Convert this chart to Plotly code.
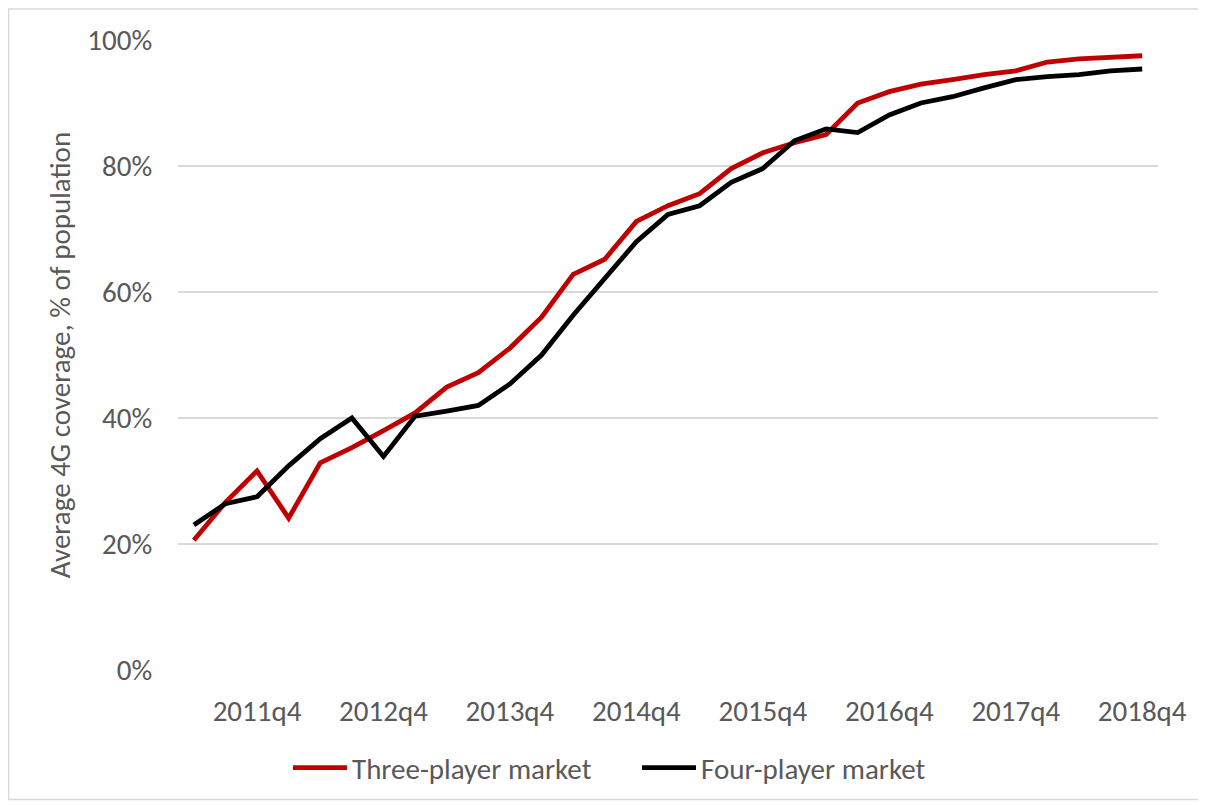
import plotly.graph_objects as go

quarters = [f"{y}q{q}" for y in range(2011, 2019) for q in range(1, 5)][1:]  # 2011q2 .. 2018q4
three_player = [20.6, 26.6, 31.6, 24.1, 32.9, 35.3, 38.0, 40.8, 44.9, 47.2, 51.1, 56.0,
                62.8, 65.2, 71.2, 73.7, 75.6, 79.6, 82.1, 83.7, 85.0, 90.0, 91.8, 93.0,
                93.7, 94.5, 95.1, 96.5, 97.0, 97.3, 97.5]
four_player = [23.0, 26.4, 27.5, 32.4, 36.7, 40.0, 33.9, 40.3, 41.1, 42.0, 45.4, 50.0,
               56.3, 62.2, 68.0, 72.3, 73.7, 77.4, 79.6, 84.0, 85.9, 85.3, 88.1, 90.0,
               91.0, 92.4, 93.7, 94.2, 94.5, 95.1, 95.4]
tick_labels = [q for q in quarters if q.endswith("q4")]

FONT = "Calibri, Carlito, Lato, sans-serif"
GRAY = "#595959"
FS = 29

# page body has an 8px margin, so figure coordinates = screen coordinates - 8
W, H = 1198, 797
L, R, T, B = 170, 48, 32, 133
pw, ph = W - L - R, H - T - B

fig = go.Figure()
fig.add_trace(go.Scatter(x=quarters, y=[v / 100 for v in three_player], mode="lines",
                         name="Three-player market",
                         line=dict(color="#C00000", width=4.8)))
fig.add_trace(go.Scatter(x=quarters, y=[v / 100 for v in four_player], mode="lines",
                         name="Four-player market",
                         line=dict(color="#000000", width=4.8)))

def px_x(p):
    return (p - L) / pw

def px_y(p):
    return (H - B - p) / ph

fig.update_layout(
    width=W, height=H,
    margin=dict(l=L, r=R, t=T, b=B),
    paper_bgcolor="white", plot_bgcolor="white",
    font=dict(family=FONT, size=FS, color=GRAY),
    showlegend=True,
    legend=dict(orientation="h", x=px_x(280), xanchor="left", y=px_y(762), yanchor="middle",
                font=dict(size=FS, color=GRAY), itemwidth=54,
                entrywidth=280, entrywidthmode="pixels",
                bgcolor="rgba(0,0,0,0)"),
    xaxis=dict(type="category", categoryorder="array", categoryarray=quarters,
               range=[-0.5, len(quarters) - 0.5],
               tickmode="array", tickvals=tick_labels, ticktext=tick_labels,
               ticks="outside", ticklen=15, tickcolor="rgba(0,0,0,0)",
               showgrid=False, showline=False, zeroline=False,
               tickfont=dict(size=FS, color=GRAY)),
    yaxis=dict(range=[0, 1], tickvals=[0, 0.2, 0.4, 0.6, 0.8, 1.0], tickformat=".0%",
               showgrid=True, gridcolor="#D9D9D9", gridwidth=1.5,
               zeroline=False, showline=False,
               ticks="outside", ticklen=19, tickcolor="rgba(0,0,0,0)",
               tickfont=dict(size=FS, color=GRAY),
               title=dict(text="Average 4G coverage, % of population",
                          font=dict(size=FS, color=GRAY), standoff=8)),
    shapes=[dict(type="rect", xref="paper", yref="paper",
                 x0=px_x(0.5), x1=px_x(1196), y0=px_y(794), y1=px_y(1),
                 line=dict(color="#D9D9D9", width=1.5), fillcolor="rgba(0,0,0,0)",
                 layer="below")],
)

fig.write_html("out.html")
